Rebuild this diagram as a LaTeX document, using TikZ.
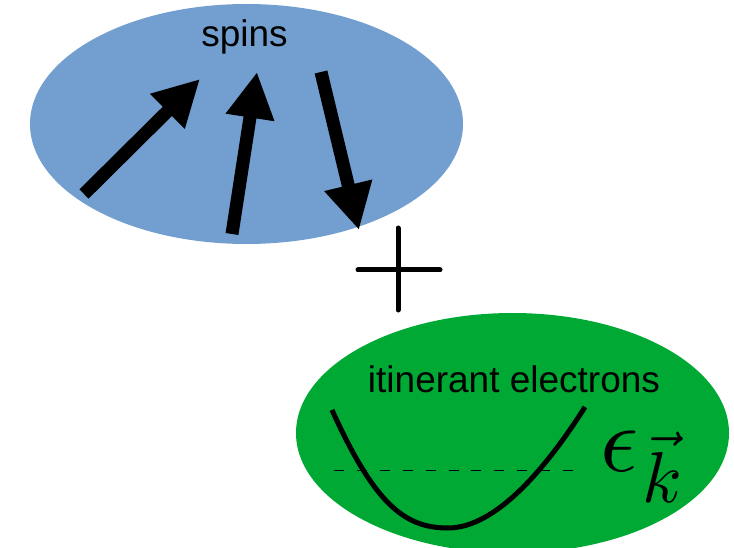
\documentclass[tikz,border=0pt]{standalone}
\usepackage{fontspec}
\newfontfamily\lib{Liberation Sans}
\usetikzlibrary{shapes.geometric,arrows.meta}
\definecolor{spinblue}{HTML}{729FCF}
\definecolor{elgreen}{HTML}{00A933}
\tikzset{
  blob/.style={ellipse, inner sep=0pt, minimum width=433pt, minimum height=240pt},
  lbl/.style={font=\lib\fontsize{37}{40}\selectfont, anchor=base, inner sep=0pt},
  spinarrow/.style={line width=13pt, -{Triangle[length=46pt,width=46pt]}},
  plusline/.style={line width=5pt, line cap=round},
}
\begin{document}
\begin{tikzpicture}[x=1pt,y=-1pt]
\useasboundingbox (0,0) rectangle (734,548);
\clip (0,0) rectangle (734,548);
% ellipses
\node[blob, fill=spinblue] (spinsell) at (246.5,124) {};
\node[blob, fill=elgreen] (elell) at (512.5,433) {};
% labels
\node[lbl] (spinslbl) at (244.5,46.5) {spins};
\node[lbl] (itlbl) at (514,392.5) {itinerant electrons};
% spin arrows
\coordinate (a1t) at (84,194);  \coordinate (a1h) at (200,79);
\coordinate (a2t) at (232,234); \coordinate (a2h) at (257,72);
\coordinate (a3t) at (321,72);  \coordinate (a3h) at (359,230);
\draw[spinarrow] (a1t) -- (a1h);
\draw[spinarrow] (a2t) -- (a2h);
\draw[spinarrow] (a3t) -- (a3h);
% plus sign
\coordinate (pt) at (398,228); \coordinate (pb) at (398,310);
\coordinate (pl) at (358,270); \coordinate (pr) at (440,270);
\draw[plusline] (pt) -- (pb);
\draw[plusline] (pl) -- (pr);
% dispersion
\coordinate (dl) at (334,470); \coordinate (dr) at (573,470);
\draw[line width=1pt, dash pattern=on 10pt off 12.9pt] (dl) -- (dr);
\coordinate (cs) at (332,410); \coordinate (cm) at (448,528); \coordinate (ce) at (585,407);
\draw[line width=5pt] (cs) .. controls (375,505) and (405,528) .. (cm)
  .. controls (495,528) and (545,470) .. (ce);
% energy label
\node[anchor=base west, inner sep=0pt] (eps) at (600,471)
  {\scalebox{9.4}{$\epsilon$}\hspace{4pt}\raisebox{-32pt}{\scalebox{7.2}{$\vec{k}$}}};
\end{tikzpicture}
\end{document}
